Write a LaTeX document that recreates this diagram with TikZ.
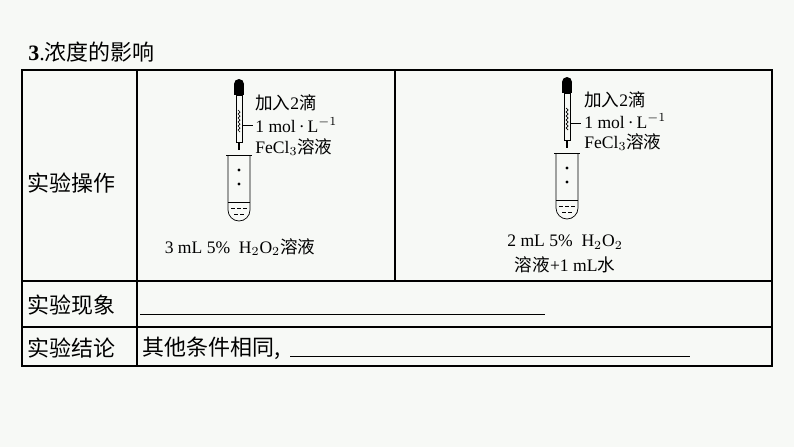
\documentclass[tikz,border=0pt]{standalone}
\usepackage{fontspec}
\setmainfont{Liberation Serif}
\newfontfamily\cjk{Noto Sans CJK SC}
\usetikzlibrary{positioning}
\definecolor{paper}{RGB}{247,249,246}
\tikzset{%
    rowlabel/.style={anchor=west,inner sep=0pt,font=\cjk\fontsize{12.5}{14}\selectfont},
    chemtext/.style={anchor=west,inner sep=0pt,font=\fontsize{10}{11}\selectfont},
    grid/.style={line width=0.9pt},
}
% dropper with test tube, x = centre, y = top of bulb
\newcommand{\dropperset}[2]{%
    \fill (#1-5,#2+4) rectangle (#1+5,#2+15);
    \fill (#1,#2+4) circle (5);
    \draw (#1-3,#2+15) rectangle (#1+3,#2+62);
    \draw (#1-1,#2+30) -- (#1+1,#2+32) -- (#1-1,#2+34) -- (#1+1,#2+36) -- (#1-1,#2+38) -- (#1+1,#2+40)
          -- (#1-1,#2+42) -- (#1+1,#2+44) -- (#1-1,#2+46) -- (#1+1,#2+48) -- (#1-1,#2+50) -- (#1+1,#2+52);
    \draw[line width=1pt] (#1,#2+62) -- (#1,#2+70);
    \draw (#1+3,#2+45) -- (#1+14,#2+45);
    \draw (#1-13,#2+75) -- (#1+13,#2+75);
    \draw (#1-11,#2+75) -- (#1-11,#2+130) arc[start angle=180,end angle=0,radius=11] -- (#1+11,#2+75);
    \fill (#1,#2+90) circle (1.6);
    \fill (#1,#2+104) circle (1.6);
    \draw (#1-11,#2+122) -- (#1+11,#2+122);
    \foreach \dx in {-6,0,6} {\draw (#1+\dx-2,#2+128) -- (#1+\dx+2,#2+128);}
    \foreach \dx in {-3,3} {\draw (#1+\dx-2,#2+134) -- (#1+\dx+2,#2+134);}
}
\begin{document}
\begin{tikzpicture}[x=0.02cm,y=-0.02cm]
    \useasboundingbox (0,0) rectangle (794,447);
    \fill[paper] (0,0) rectangle (794,447);
    \node[anchor=west,inner sep=0pt,font=\fontsize{12.5}{14}\selectfont] (title) at (28,52) {\textbf{3}.{\cjk 浓度的影响}};

    % table
    \draw[grid] (22,70) rectangle (772,366);
    \draw[grid] (22,281) -- (772,281);
    \draw[grid] (22,327) -- (772,327);
    \draw[grid] (137,70) -- (137,366);
    \draw[grid] (395,70) -- (395,281);

    \node[rowlabel] (op) at (27,183) {实验操作};
    \node[rowlabel] (phen) at (27,305) {实验现象};
    \node[rowlabel] (concl) at (27,348) {实验结论};

    % left experiment
    \dropperset{239}{80}
    \node[chemtext] (addA) at (255,103) {{\cjk 加入}2{\cjk 滴}};
    \node[chemtext] (concA) at (255,125) {1 mol\,·\,L$^{-1}$};
    \node[chemtext] (fecA) at (255,147) {FeCl$_3${\cjk 溶液}};
    \node[font=\fontsize{10}{11}\selectfont,inner sep=0pt] (solA) at (240,247) {3 mL 5\%\ \ H$_2$O$_2${\cjk 溶液}};

    % right experiment
    \dropperset{567}{78}
    \node[chemtext] (addB) at (584,100) {{\cjk 加入}2{\cjk 滴}};
    \node[chemtext] (concB) at (584,121) {1 mol\,·\,L$^{-1}$};
    \node[chemtext] (fecB) at (584,142) {FeCl$_3${\cjk 溶液}};
    \node[font=\fontsize{10}{11}\selectfont,inner sep=0pt] (solB) at (565,242) {2 mL 5\%\ \ H$_2$O$_2$};
    \node[font=\fontsize{10}{11}\selectfont,inner sep=0pt,below=4pt of solB] (waterB) {{\cjk 溶液}+1 mL{\cjk 水}};

    % blanks
    \draw (140,314) -- (545,314);
    \node[rowlabel] (same) at (142,348) {其他条件相同,};
    \draw (290,356) -- (690,356);
\end{tikzpicture}
\end{document}
